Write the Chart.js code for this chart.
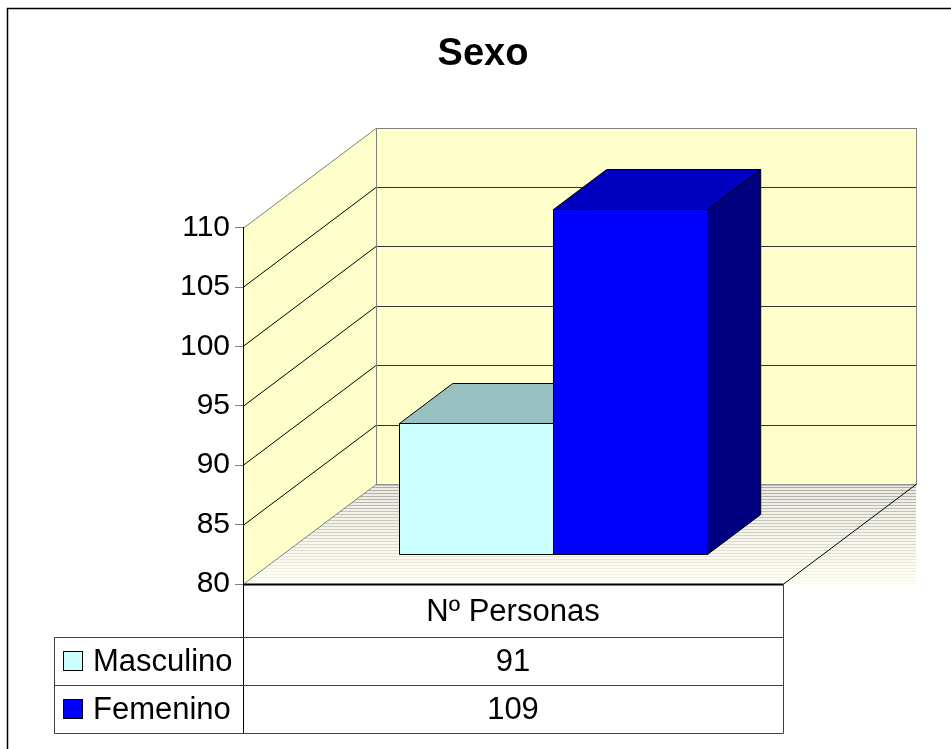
<!DOCTYPE html>
<html lang="es">
<head>
  <meta charset="UTF-8">
  <title>Sexo</title>
  <script src="https://cdn.jsdelivr.net/npm/chart.js"></script>
  <style>
    body { margin: 0; background: #fff; }
    #chart { display: block; }
  </style>
</head>
<body>
  <canvas id="chart" width="951" height="749"></canvas>

  <script>
    const categories = ['Nº Personas'];
    const seriesNames = ['Masculino', 'Femenino'];
    const masculino = [91];
    const femenino = [109];
    const yMin = 80, yMax = 110, yStep = 5;

    const FONT = "'Liberation Sans', Arial, sans-serif";
    const frontColors = ['#CCFFFF', '#0000FF'];
    const topColors = ['#99C0C0', '#0000C0'];
    const sideColors = ['#669999', '#000080'];

    // depth of the 3D box in pixels, and where the bars sit inside it
    const DEPTH = { dx: 133, dy: -100 };
    const BAR_FRONT = 0.3, BAR_BACK = 0.7;

    function poly(ctx, pts, fill, stroke) {
      ctx.beginPath();
      ctx.moveTo(pts[0][0], pts[0][1]);
      for (let i = 1; i < pts.length; i++) ctx.lineTo(pts[i][0], pts[i][1]);
      ctx.closePath();
      if (fill) { ctx.fillStyle = fill; ctx.fill(); }
      if (stroke) { ctx.strokeStyle = stroke; ctx.stroke(); }
    }
    function line(ctx, x0, y0, x1, y1, color, w) {
      ctx.beginPath();
      ctx.moveTo(x0, y0);
      ctx.lineTo(x1, y1);
      ctx.strokeStyle = color;
      ctx.lineWidth = w || 1;
      ctx.stroke();
    }
    function mix(a, b, t) {
      const r = Math.round(a[0] + (b[0] - a[0]) * t);
      const g = Math.round(a[1] + (b[1] - a[1]) * t);
      const bl = Math.round(a[2] + (b[2] - a[2]) * t);
      return 'rgb(' + r + ',' + g + ',' + bl + ')';
    }

    // walls, floor and gridlines behind everything
    const walls = {
      id: 'walls',
      beforeDraw(chart) {
        const ctx = chart.ctx;
        const { left, right, top, bottom } = chart.chartArea;
        const y = chart.scales.y;
        const dx = DEPTH.dx, dy = DEPTH.dy;
        ctx.save();
        ctx.fillStyle = '#fff';
        ctx.fillRect(0, 0, chart.width, chart.height);

        // outer frame (runs off the right and bottom edges)
        ctx.strokeStyle = '#000';
        ctx.lineWidth = 1.5;
        ctx.strokeRect(7.5, 8.5, chart.width + 20, chart.height + 20);

        // floor: grey stripes fading to the front
        const backY = bottom + dy, farX = right + dx;
        for (let py = backY; py < bottom + 1; py++) {
          const t = (py - backY) / (bottom - backY);
          const x0 = left + (bottom - py) / -dy * dx;
          const stripe = (py - backY) % 3 === 0;
          ctx.fillStyle = stripe ? mix([170, 170, 160], [250, 250, 238], t)
                                 : mix([235, 235, 228], [255, 255, 245], t);
          ctx.fillRect(x0, py, farX - x0, 1);
        }

        // back wall
        ctx.fillStyle = '#FFFFCC';
        ctx.fillRect(left + dx, top + dy, right - left, bottom - top);
        // side wall
        poly(ctx, [[left, bottom], [left, top], [left + dx, top + dy], [left + dx, bottom + dy]], '#FFFFCC');

        ctx.lineWidth = 1;
        y.ticks.forEach(tk => {
          const yf = Math.round(y.getPixelForValue(tk.value)) + 0.5;
          if (tk.value === yMin || tk.value === yMax) return;
          line(ctx, left, yf, left + dx, yf + dy, '#000');
          line(ctx, left + dx, yf + dy, right + dx, yf + dy, '#333');
        });

        const t0 = Math.round(top) + 0.5, b0 = Math.round(bottom) + 0.5;
        // grey outlines of walls
        line(ctx, left, t0, left + dx, t0 + dy, '#808080');
        line(ctx, left + dx + 0.5, t0 + dy, left + dx + 0.5, b0 + dy, '#808080');
        ctx.strokeStyle = '#808080';
        ctx.strokeRect(left + dx + 0.5, t0 + dy, right - left, bottom - top);
        line(ctx, left, b0, left + dx, b0 + dy, '#808080');
        // floor outline
        line(ctx, right, b0, right + dx, b0 + dy, '#000');
        line(ctx, left, b0, right, b0, '#000', 2);
        ctx.restore();
      }
    };

    // 3D boxes from the bar elements
    const bars3d = {
      id: 'bars3d',
      beforeDatasetsDraw(chart) {
        const ctx = chart.ctx;
        const ox = DEPTH.dx * (BAR_BACK - BAR_FRONT), oy = DEPTH.dy * (BAR_BACK - BAR_FRONT);
        ctx.save();
        ctx.lineWidth = 1;
        ctx.lineJoin = 'round';
        chart.data.datasets.forEach((ds, i) => {
          const meta = chart.getDatasetMeta(i);
          meta.data.forEach(bar => {
            const p = bar.getProps(['x', 'y', 'base', 'width'], true);
            const base = Math.min(p.base, chart.chartArea.bottom);
            const x0 = Math.round(p.x - p.width / 2 + DEPTH.dx * BAR_FRONT) + 0.5;
            const x1 = Math.round(p.x + p.width / 2 + DEPTH.dx * BAR_FRONT) + 0.5;
            const y0 = Math.round(p.y + DEPTH.dy * BAR_FRONT) + 0.5;
            const y1 = Math.round(base + DEPTH.dy * BAR_FRONT) + 0.5;
            poly(ctx, [[x1, y0], [x1 + ox, y0 + oy], [x1 + ox, y1 + oy], [x1, y1]], sideColors[i], '#000');
            poly(ctx, [[x0, y0], [x0 + ox, y0 + oy], [x1 + ox, y0 + oy], [x1, y0]], topColors[i], '#000');
            poly(ctx, [[x0, y0], [x1, y0], [x1, y1], [x0, y1]], ds.backgroundColor, '#000');
          });
        });
        ctx.restore();
        return false;
      }
    };

    // data table under the floor
    const dataTable = {
      id: 'dataTable',
      afterDraw(chart) {
        const ctx = chart.ctx;
        const { left, right, bottom } = chart.chartArea;
        const xs = chart.scales.x;
        const tableLeft = 54.5, b0 = Math.round(bottom) + 0.5;
        const headBottom = b0 + 53, rowH = 48;
        const tableBottom = headBottom + rowH * seriesNames.length;
        const L = Math.round(left) + 0.5, R = Math.round(right) + 0.5;
        ctx.save();
        ctx.lineWidth = 1;
        line(ctx, L, b0, L, tableBottom, '#000');
        line(ctx, R, b0, R, tableBottom, '#404040');
        line(ctx, tableLeft, headBottom, tableLeft, tableBottom, '#404040');
        for (let r = 0; r <= seriesNames.length; r++) {
          line(ctx, tableLeft, headBottom + r * rowH, R, headBottom + r * rowH, '#404040');
        }
        ctx.font = '31px ' + FONT;
        ctx.fillStyle = '#000';
        ctx.textBaseline = 'middle';
        ctx.textAlign = 'center';
        categories.forEach((c, k) => {
          ctx.fillText(c, xs.getPixelForValue(k), (b0 + headBottom) / 2 + 1);
        });
        chart.data.datasets.forEach((ds, i) => {
          const cy = headBottom + rowH * i + rowH / 2;
          ctx.fillStyle = ds.backgroundColor;
          ctx.fillRect(63.5, cy - 10, 19, 19);
          ctx.strokeStyle = '#000';
          ctx.strokeRect(63.5, cy - 10, 19, 19);
          ctx.fillStyle = '#000';
          ctx.textAlign = 'left';
          ctx.fillText(ds.label, 93, cy + 1);
          ctx.textAlign = 'center';
          ds.data.forEach((v, k) => ctx.fillText(String(v), xs.getPixelForValue(k), cy + 1));
        });
        ctx.restore();
      }
    };

    new Chart(document.getElementById('chart'), {
      type: 'bar',
      data: {
        labels: categories,
        datasets: [
          { label: seriesNames[0], data: masculino, backgroundColor: frontColors[0] },
          { label: seriesNames[1], data: femenino, backgroundColor: frontColors[1] }
        ]
      },
      options: {
        responsive: false,
        animation: false,
        layout: { padding: { left: 15, right: 0, top: 0, bottom: 165 } },
        datasets: { bar: { categoryPercentage: 0.57, barPercentage: 1, base: yMin } },
        plugins: {
          legend: { display: false },
          tooltip: { enabled: false },
          title: {
            display: true,
            text: 'Sexo',
            color: '#000',
            font: { family: FONT, size: 38, weight: 'bold' },
            padding: { top: 32, bottom: 150 }
          }
        },
        scales: {
          x: { display: false },
          y: {
            min: yMin,
            max: yMax,
            ticks: { stepSize: yStep, color: '#000', padding: 5, font: { family: FONT, size: 30 } },
            grid: { drawOnChartArea: false, drawTicks: true, tickLength: 8, color: '#808080' },
            border: { display: true, color: '#000', width: 1 },
            afterFit(s) { s.width = 228; }
          },
          yPad: {
            position: 'right',
            display: true,
            grid: { display: false },
            ticks: { display: false },
            border: { display: false },
            afterFit(s) { s.width = 168; }
          }
        }
      },
      plugins: [walls, bars3d, dataTable]
    });
  </script>
</body>
</html>
